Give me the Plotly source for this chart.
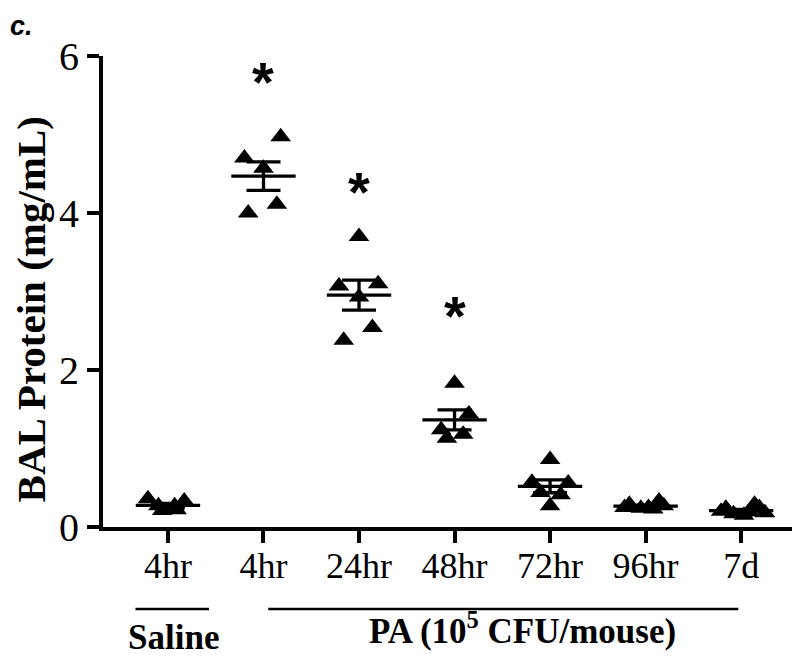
import numpy as np
import plotly.graph_objects as go

# ---- data ----
tick_labels = ["4hr", "4hr", "24hr", "48hr", "72hr", "96hr", "7d"]

saline_4hr = [0.36, 0.27, 0.27, 0.33, 0.21, 0.22]
pa_4hr = [4.97, 4.70, 4.57, 4.11, 4.00]
pa_24hr = [3.70, 3.07, 3.10, 2.93, 2.54, 2.38]
pa_48hr = [1.83, 1.44, 1.24, 1.13, 1.18]
pa_72hr = [0.86, 0.57, 0.56, 0.44, 0.41, 0.27]
pa_96hr = [0.29, 0.25, 0.24, 0.25, 0.33, 0.27, 0.23]
pa_7d = [0.20, 0.24, 0.29, 0.25, 0.18, 0.17, 0.15, 0.19]

# horizontal scatter of the individual points (fraction of category spacing)
jitter_saline_4hr = [-0.21, -0.10, 0.07, 0.17, -0.06, 0.09]
jitter_pa_4hr = [0.18, -0.20, 0.00, 0.14, -0.16]
jitter_pa_24hr = [0.00, -0.21, 0.20, 0.00, 0.14, -0.16]
jitter_pa_48hr = [0.00, 0.15, -0.14, -0.08, 0.09]
jitter_pa_72hr = [0.00, -0.19, 0.19, -0.10, 0.11, 0.00]
jitter_pa_96hr = [-0.17, -0.22, -0.05, 0.03, 0.14, 0.19, 0.08]
jitter_pa_7d = [-0.21, -0.16, 0.14, 0.19, 0.25, -0.08, 0.03, 0.08]

star_groups = [1, 2, 3]
star_values = [5.82, 4.42, 2.84]

series = [saline_4hr, pa_4hr, pa_24hr, pa_48hr, pa_72hr, pa_96hr, pa_7d]
jitters = [jitter_saline_4hr, jitter_pa_4hr, jitter_pa_24hr, jitter_pa_48hr,
           jitter_pa_72hr, jitter_pa_96hr, jitter_pa_7d]

# ---- figure ----
SERIF = "Liberation Serif"
xs, ys = [], []
for i, (vals, jit) in enumerate(zip(series, jitters)):
    xs += [i + j for j in jit]
    ys += vals

means = [float(np.mean(v)) for v in series]
sems = [float(np.std(v, ddof=1) / np.sqrt(len(v))) for v in series]

fig = go.Figure()
fig.add_trace(go.Scatter(
    x=xs, y=ys, mode="markers", cliponaxis=False, showlegend=False,
    marker=dict(symbol="triangle-up", size=18, color="black",
                line=dict(width=0)),
))
fig.add_trace(go.Scatter(
    x=list(range(len(series))), y=means, mode="markers", cliponaxis=False,
    showlegend=False,
    marker=dict(symbol="line-ew", size=46, color="black",
                line=dict(width=3.3, color="black")),
    error_y=dict(type="data", array=sems, visible=True, color="black",
                 thickness=3.3, width=17),
))

annotations = []
for g, v in zip(star_groups, star_values):
    annotations.append(dict(x=g, y=v, xref="x", yref="y", text="*",
                            showarrow=False, yanchor="middle", yshift=-11,
                            font=dict(family="Liberation Sans", size=56,
                                      color="black", weight="bold")))

# y axis title
annotations.append(dict(x=-0.1021, y=0.462, xref="paper", yref="paper",
                        text="BAL Protein (mg/mL)", showarrow=False,
                        textangle=-90, xanchor="center", yanchor="middle",
                        font=dict(family=SERIF, size=41, color="black",
                                  weight="bold")))

# group labels under the axis
annotations.append(dict(x=0.06, y=-0.2344, xref="x", yref="paper",
                        text="Saline", showarrow=False, yanchor="middle",
                        font=dict(family=SERIF, size=35, color="black",
                                  weight="bold")))
annotations.append(dict(x=3.71, y=-0.2344, xref="x", yref="paper",
                        text="PA (10<sup>5</sup> CFU/mouse)", showarrow=False,
                        yanchor="middle", yshift=9,
                        font=dict(family=SERIF, size=35, color="black",
                                  weight="bold")))
# panel letter
annotations.append(dict(x=-0.1348, y=1.0997, xref="paper", yref="paper",
                        text="c.", showarrow=False, xanchor="left",
                        yanchor="top",
                        font=dict(family="Liberation Sans", size=27,
                                  color="black", weight="bold",
                                  style="italic")))

shapes = [
    dict(type="line", xref="x", yref="paper", x0=-0.34, x1=0.43,
         y0=-0.1743, y1=-0.1743, line=dict(color="black", width=2.5)),
    dict(type="line", xref="x", yref="paper", x0=1.05, x1=5.97,
         y0=-0.1743, y1=-0.1743, line=dict(color="black", width=2.5)),
]

fig.update_layout(
    width=800, height=656,
    margin=dict(l=95, r=0, t=48, b=136.5, pad=0),
    plot_bgcolor="white", paper_bgcolor="white",
    annotations=annotations, shapes=shapes,
    xaxis=dict(range=[-0.68, 6.70], tickmode="array",
               tickvals=list(range(len(tick_labels))), ticktext=tick_labels,
               showline=True, linewidth=4, linecolor="black",
               ticks="outside", ticklen=12, tickwidth=3.5, tickcolor="black",
               showgrid=False, zeroline=False, ticklabelstandoff=-8,
               tickfont=dict(family=SERIF, size=36, color="black")),
    yaxis=dict(range=[0, 6], tickmode="array", tickvals=[0, 2, 4, 6],
               showline=True, linewidth=4, linecolor="black",
               ticks="outside", ticklen=12, tickwidth=3.5, tickcolor="black",
               showgrid=False, zeroline=False,
               tickfont=dict(family=SERIF, size=40, color="black")),
)

fig.write_html("out.html")
